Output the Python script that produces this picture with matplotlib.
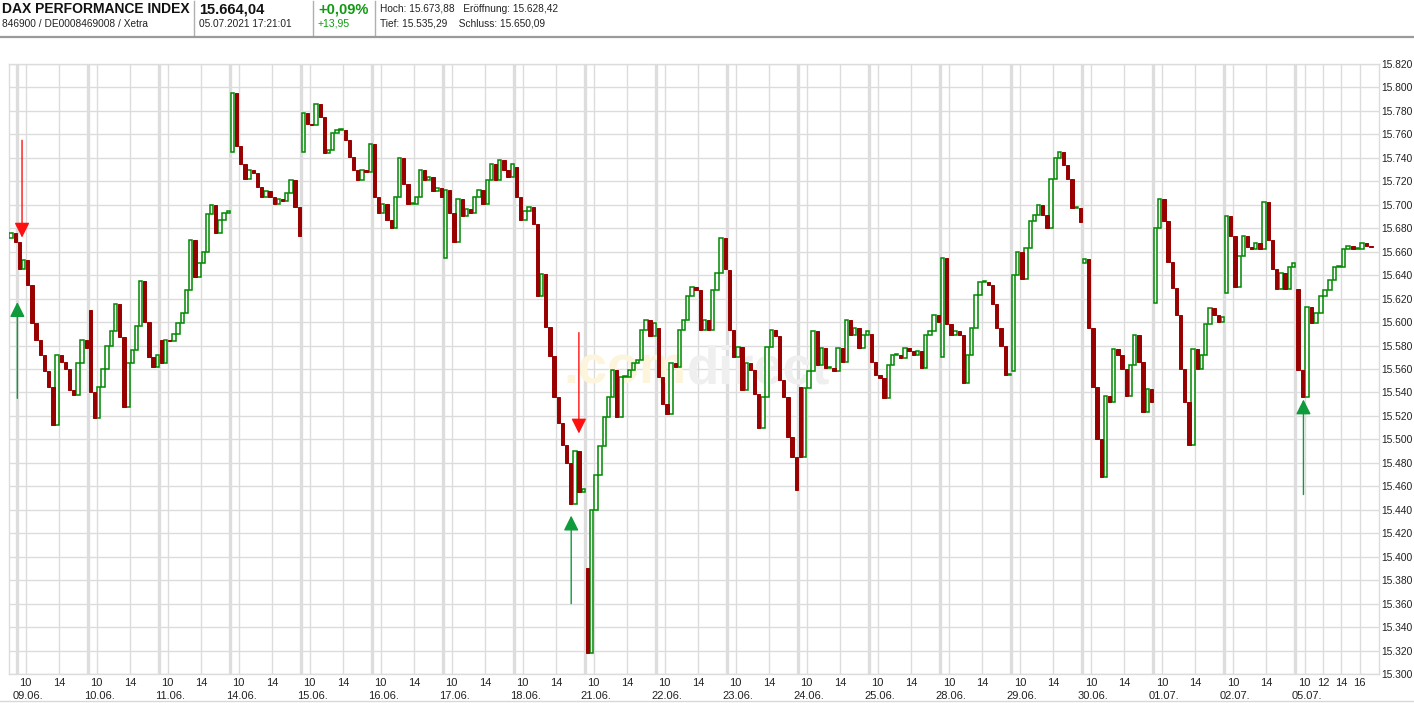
import matplotlib
matplotlib.use("Agg")
import matplotlib.pyplot as plt
from matplotlib.lines import Line2D
from matplotlib.ticker import FuncFormatter

plt.rcParams['font.family'] = ['Liberation Sans', 'DejaVu Sans']

#==============================================================================
# Data (30 minute candles, open = previous close)

day_labels = ['09.06.', '10.06.', '11.06.', '14.06.', '15.06.', '16.06.', '17.06.',
              '18.06.', '21.06.', '22.06.', '23.06.', '24.06.', '25.06.', '28.06.',
              '29.06.', '30.06.', '01.07.', '02.07.', '05.07.']

# last hour of 08.06.
prev_open = 15672
prev_closes = [15676, 15668]

day_opens = [15668, 15610, 15585, 15745, 15745, 15752, 15655, 15732, 15390, 15595,
             15644, 15545, 15590, 15570, 15558, 15650, 15616, 15625, 15628]

close_0906 = [15645, 15653, 15632, 15599, 15585, 15572, 15558, 15545, 15512, 15572, 15566, 15560, 15542, 15538, 15565, 15585, 15578]
close_1006 = [15540, 15518, 15545, 15560, 15580, 15592, 15615, 15587, 15528, 15565, 15576, 15597, 15635, 15600, 15570, 15562, 15572]
close_1106 = [15565, 15585, 15584, 15590, 15599, 15608, 15627, 15670, 15638, 15650, 15660, 15692, 15700, 15676, 15687, 15693, 15695]
close_1406 = [15795, 15750, 15735, 15722, 15730, 15727, 15715, 15707, 15712, 15707, 15701, 15705, 15703, 15710, 15721, 15698, 15673]
close_1506 = [15778, 15769, 15768, 15786, 15775, 15744, 15747, 15761, 15764, 15764, 15755, 15741, 15730, 15721, 15730, 15728, 15752]
close_1606 = [15707, 15693, 15701, 15687, 15680, 15707, 15740, 15718, 15701, 15701, 15707, 15730, 15721, 15724, 15712, 15714, 15707]
close_1706 = [15713, 15693, 15668, 15705, 15690, 15696, 15693, 15707, 15713, 15701, 15721, 15735, 15721, 15738, 15730, 15724, 15735]
close_1806 = [15707, 15687, 15695, 15698, 15684, 15622, 15641, 15596, 15571, 15536, 15514, 15495, 15480, 15445, 15490, 15455, 15458]
close_2106 = [15318, 15440, 15470, 15494, 15519, 15536, 15559, 15519, 15553, 15553, 15559, 15565, 15568, 15593, 15602, 15588, 15599]
close_2206 = [15553, 15530, 15522, 15565, 15562, 15593, 15602, 15622, 15630, 15627, 15593, 15602, 15593, 15627, 15642, 15672, 15645]
close_2306 = [15593, 15570, 15579, 15542, 15565, 15559, 15539, 15510, 15536, 15579, 15593, 15588, 15551, 15536, 15502, 15485, 15457]
close_2406 = [15485, 15544, 15558, 15592, 15563, 15578, 15561, 15561, 15558, 15578, 15566, 15602, 15589, 15595, 15578, 15589, 15592]
close_2506 = [15566, 15555, 15552, 15535, 15563, 15572, 15572, 15569, 15578, 15575, 15572, 15575, 15561, 15589, 15592, 15606, 15600]
close_2806 = [15655, 15598, 15589, 15592, 15589, 15548, 15572, 15595, 15623, 15634, 15634, 15632, 15615, 15595, 15580, 15555, 15555]
close_2906 = [15640, 15660, 15637, 15663, 15686, 15691, 15700, 15691, 15680, 15722, 15740, 15745, 15734, 15722, 15697, 15697, 15685]
close_3006 = [15654, 15595, 15545, 15500, 15468, 15537, 15532, 15577, 15572, 15560, 15537, 15563, 15589, 15566, 15523, 15543, 15532]
close_0107 = [15680, 15705, 15686, 15651, 15629, 15606, 15560, 15532, 15495, 15577, 15560, 15572, 15598, 15612, 15606, 15600, 15604]
close_0207 = [15690, 15673, 15630, 15656, 15673, 15664, 15662, 15667, 15662, 15702, 15670, 15645, 15628, 15642, 15628, 15647, 15650]
close_0507 = [15559, 15536, 15613, 15599, 15608, 15622, 15627, 15636, 15647, 15647, 15662, 15665, 15662, 15662, 15667, 15665, 15664]

day_closes = [close_0906, close_1006, close_1106, close_1406, close_1506, close_1606,
              close_1706, close_1806, close_2106, close_2206, close_2306, close_2406,
              close_2506, close_2806, close_2906, close_3006, close_0107, close_0207,
              close_0507]

# signal arrows: day index, hours after 9:00, tail price, tip price
buy_days = [0, 7, 18]
buy_hours = [0.0, 6.8, 0.87]
buy_from = [15535, 15360, 15453]
buy_to = [15617, 15435, 15534]

sell_days = [0, 7]
sell_hours = [0.56, 7.72]
sell_from = [15755, 15591]
sell_to = [15672, 15505]

#==============================================================================
# Layout helpers

RED = '#990000'
GREEN = '#008800'
GRID = '#dcdcdc'
DAY_LEN = 8.5          # 9:00 - 17:30
STEP = 0.5             # candle length in hours
LAST_STRETCH = 1.098   # the running day is drawn a bit wider


def day_x(d, h):
    s = LAST_STRETCH if d == len(day_labels) - 1 else 1.0
    return d * DAY_LEN + h * s


def de_fmt(v, pos=None):
    return '{:,}'.format(int(round(v))).replace(',', '.')


W, H = 1414, 703
fig = plt.figure(figsize=(W / 100, H / 100), dpi=100)
fig.patch.set_facecolor('white')

#==============================================================================
# Header

def ftext(x, y, s, **kw):
    fig.text(x / W, 1 - y / H, s, va='center', ha='left', **kw)

ftext(2, 9, 'DAX PERFORMANCE INDEX', fontsize=10, fontweight='bold', color='#111111')
ftext(2, 24, '846900 / DE0008469008 / Xetra', fontsize=7.3, color='#222222')
ftext(199, 9, '15.664,04', fontsize=10.5, fontweight='bold', color='#111111')
ftext(199, 24, '05.07.2021 17:21:01', fontsize=7.3, color='#222222')
ftext(318, 9, '+0,09%', fontsize=10.5, fontweight='bold', color='#119911')
ftext(318, 24, '+13,95', fontsize=7.5, color='#119911')
ftext(380, 9, 'Hoch: 15.673,88   Eröffnung: 15.628,42', fontsize=7.3, color='#222222')
ftext(380, 24, 'Tief: 15.535,29    Schluss: 15.650,09', fontsize=7.3, color='#222222')

for xp in [194, 313, 375]:
    fig.add_artist(Line2D([xp / W, xp / W], [1 - 1 / H, 1 - 36 / H],
                          transform=fig.transFigure, color='#b0b0b0', lw=1))
fig.add_artist(Line2D([0, 1], [1 - 37 / H, 1 - 37 / H], transform=fig.transFigure,
                      color='#9a9a9a', lw=1.6))
fig.add_artist(Line2D([0, 1], [1 - 701 / H, 1 - 701 / H], transform=fig.transFigure,
                      color='#d8d8d8', lw=1))

#==============================================================================
# Chart

ax = fig.add_axes([9 / W, (H - 674) / H, 1370 / W, 610 / H])
ax.set_xlim(-1.0, 163.0)
ax.set_ylim(15300, 15820)

# candles
xs, opens, closes, widths = [], [], [], []
o = prev_open
n_prev = len(prev_closes)
for k, c in enumerate(prev_closes):
    xs.append(-STEP * (n_prev - k - 0.5))
    opens.append(o)
    closes.append(c)
    widths.append(STEP * 0.8)
    o = c
for d, cl in enumerate(day_closes):
    o = day_opens[d]
    s = LAST_STRETCH if d == len(day_labels) - 1 else 1.0
    for k, c in enumerate(cl):
        xs.append(day_x(d, (k + 0.5) * STEP))
        opens.append(o)
        closes.append(c)
        widths.append(STEP * 0.8 * s)
        o = c

for rising in (True, False):
    idx = [i for i in range(len(xs)) if (closes[i] >= opens[i]) == rising]
    bx = [xs[i] for i in idx]
    bb = [min(opens[i], closes[i]) for i in idx]
    bh = [max(abs(closes[i] - opens[i]), 0.8) for i in idx]
    bw = [widths[i] for i in idx]
    if rising:
        ax.bar(bx, bh, bottom=bb, width=bw, facecolor='white', edgecolor=GREEN,
               linewidth=1.1, zorder=4)
    else:
        ax.bar(bx, bh, bottom=bb, width=bw, facecolor=RED, edgecolor=RED,
               linewidth=0.7, zorder=5)

# grid: horizontal, hour lines, day separators
for p in range(15300, 15821, 20):
    ax.axhline(p, color=GRID, lw=1.0, zorder=0)

hour_pos, hour_lab, date_pos = [], [], []
for d, lab in enumerate(day_labels):
    ax.axvline(d * DAY_LEN, color='#dddddd', lw=2.4, zorder=0)
    hours = [10, 12, 14, 16] if d == len(day_labels) - 1 else [10, 14]
    for hr in hours:
        xp = day_x(d, hr - 9)
        ax.axvline(xp, color=GRID, lw=1.0, zorder=0)
        hour_pos.append(xp)
        hour_lab.append(str(hr))
    date_pos.append(day_x(d, 1) + 0.3)

ax.set_xticks(hour_pos)
ax.set_xticklabels(hour_lab, fontsize=8, color='#222222')
ax.set_xticks(date_pos, minor=True)
ax.set_xticklabels(day_labels, minor=True, fontsize=8, color='#222222')
ax.tick_params(axis='x', which='major', length=0, pad=3)
ax.tick_params(axis='x', which='minor', length=0, pad=12.5)

ax.set_yticks(range(15300, 15821, 20))
ax.yaxis.set_major_formatter(FuncFormatter(de_fmt))
ax.yaxis.tick_right()
ax.tick_params(axis='y', length=0, pad=1.5, labelsize=7.4, labelcolor='#222222')
for sp in ax.spines.values():
    sp.set_color(GRID)
    sp.set_linewidth(1.0)

# watermark
ax.text(0.405, 0.50, '.com', transform=ax.transAxes, fontsize=38, fontweight='bold',
        color='#fdf4dc', ha='left', va='center', zorder=1)
ax.text(0.495, 0.50, 'direct', transform=ax.transAxes, fontsize=38, fontweight='bold',
        color='#efefef', ha='left', va='center', zorder=1)

# signal arrows
def draw_arrow(d, h, p_from, p_to, color):
    xp = day_x(d, h)
    ax.annotate('', xy=(xp, p_to), xytext=(xp, p_from),
                arrowprops=dict(arrowstyle='-|>,head_length=0.7,head_width=0.35',
                                color=color, lw=1.0, mutation_scale=13,
                                shrinkA=0, shrinkB=0), zorder=6)

for d, h, a, b in zip(buy_days, buy_hours, buy_from, buy_to):
    draw_arrow(d, h, a, b, '#0f9a3c')
for d, h, a, b in zip(sell_days, sell_hours, sell_from, sell_to):
    draw_arrow(d, h, a, b, '#ff1010')

fig.savefig('out.png', dpi=100)
